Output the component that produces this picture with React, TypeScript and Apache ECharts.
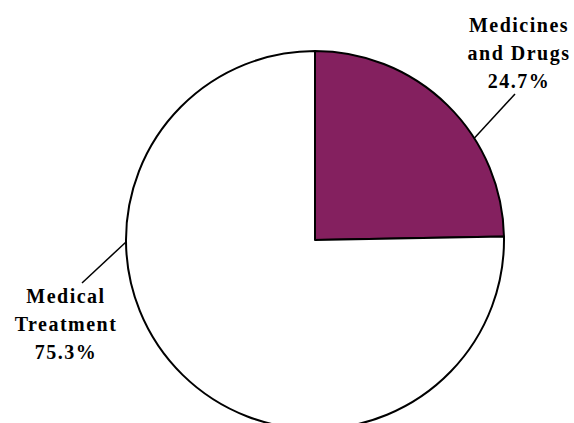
import React, { useEffect, useRef } from "react";
import * as echarts from "echarts";

const categories = ["Medicines\nand Drugs", "Medical\nTreatment"];
const values = [24.7, 75.3];

const sliceColors = ["#84205F", "#FFFFFF"];

const CX = 315;
const CY = 240;
const R = 189;

const pt = (deg: number, r: number) => [
  CX + r * Math.cos((deg * Math.PI) / 180),
  CY - r * Math.sin((deg * Math.PI) / 180),
];

const labelPlacement = [
  { x: 519, y: 53, line: [pt(32.6, R), [515, 94]] },
  { x: 66, y: 324, line: [pt(180.6, R), [82, 283]] },
];

export default function App() {
  const ref = useRef<HTMLDivElement>(null);
  useEffect(() => {
    if (!ref.current) return;
    const chart = echarts.init(ref.current, null, { renderer: "svg" });
    chart.setOption({
      animation: false,
      backgroundColor: "#ffffff",
      series: [
        {
          type: "pie",
          center: [CX, CY],
          radius: R,
          startAngle: 90,
          clockwise: true,
          silent: true,
          avoidLabelOverlap: false,
          emphasis: { disabled: true },
          itemStyle: { borderColor: "#000000", borderWidth: 2 },
          label: {
            show: true,
            position: "outside",
            overflow: "none",
            fontFamily: "Liberation Serif",
            fontWeight: "bold",
            fontSize: 20,
            lineHeight: 28,
            color: "#000000",
            align: "center",
            formatter: (p: any) => `${p.name}\n${p.value.toFixed(1)}%`,
          },
          labelLine: {
            show: true,
            lineStyle: { color: "#000000", width: 1.5 },
          },
          labelLayout: (params: any) => {
            const L = labelPlacement[params.dataIndex];
            return {
              x: L.x,
              y: L.y,
              align: "center",
              verticalAlign: "middle",
              labelLinePoints: L.line,
            };
          },
          data: categories.map((name, i) => ({
            name,
            value: values[i],
            itemStyle: { color: sliceColors[i] },
          })),
        },
      ],
    });
    return () => chart.dispose();
  }, []);
  return (
    <>
      <style>{"#pie-chart text { letter-spacing: 1.5px; }"}</style>
      <div
        id="pie-chart"
        ref={ref}
        style={{ position: "absolute", left: 0, top: 0, width: 574, height: 423 }}
      />
    </>
  );
}
